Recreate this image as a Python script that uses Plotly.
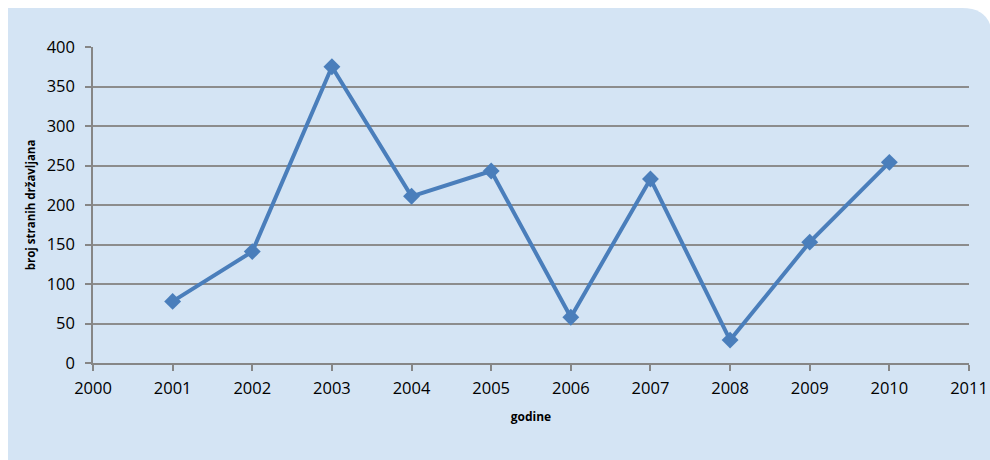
import plotly.graph_objects as go

years = [2001, 2002, 2003, 2004, 2005, 2006, 2007, 2008, 2009, 2010]
values = [78, 141, 375, 211, 243, 58, 233, 29, 153, 254]
x_ticks = list(range(2000, 2012))
y_ticks = [0, 50, 100, 150, 200, 250, 300, 350, 400]

W, H = 990, 460
L, R, T, B = 93, 21, 47, 97
pw, ph = W - L - R, H - T - B

def px(x):
    return (x - L) / pw

def py(y):
    return (H - B - y) / ph  # paper y from pixel y (top origin)

# rounded background panel (top-right corner rounded)
x0, y0, x1, y1, r = 8, 8, 992, 462, 30
path = (f"M {px(x0)},{py(y0)} L {px(x1 - r)},{py(y0)} "
        f"Q {px(x1)},{py(y0)} {px(x1)},{py(y0 + r)} "
        f"L {px(x1)},{py(y1)} L {px(x0)},{py(y1)} Z")

fig = go.Figure()
fig.add_trace(go.Scatter(
    x=years, y=values, mode="lines+markers",
    line=dict(color="#4A7EBB", width=4),
    marker=dict(symbol="diamond", size=13, color="#4A7EBB"),
    hoverinfo="x+y", showlegend=False,
))

fig.update_layout(
    width=W, height=H,
    margin=dict(l=L, r=R, t=T, b=B, autoexpand=False),
    paper_bgcolor="white",
    plot_bgcolor="rgba(0,0,0,0)",
    font=dict(family="Open Sans, Lato, sans-serif", size=16.5, color="#000000"),
    shapes=[dict(type="path", path=path, xref="paper", yref="paper",
                 fillcolor="#D4E4F4", line=dict(width=0), layer="below")],
    xaxis=dict(
        range=[2000, 2011], tickvals=x_ticks, ticktext=[str(v) for v in x_ticks],
        showgrid=False, zeroline=False, automargin=False,
        showline=True, linecolor="#868686", linewidth=1.5,
        ticks="outside", ticklen=6, tickwidth=1.5, tickcolor="#868686",
        ticklabelstandoff=3,
        title=dict(text="<b>godine</b>", font=dict(size=12), standoff=15),
    ),
    yaxis=dict(
        range=[0, 400], tickvals=y_ticks, automargin=False,
        showgrid=True, gridcolor="#8C8C8C", gridwidth=1.5,
        zeroline=False,
        showline=True, linecolor="#868686", linewidth=1.5,
        ticks="outside", ticklen=6, tickwidth=1.5, tickcolor="#868686",
        ticklabelstandoff=7,
        title=dict(text="<b>broj stranih državljana</b>", font=dict(size=11.5), standoff=9),
    ),
)

fig.write_html("out.html", config={"displayModeBar": False},
               post_script="document.body.style.margin='0';")
